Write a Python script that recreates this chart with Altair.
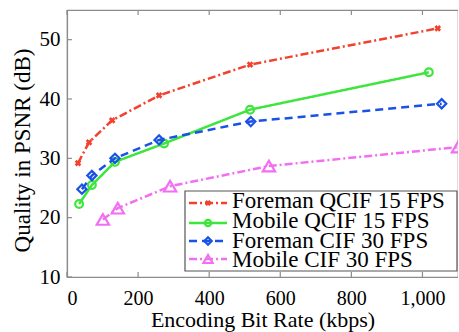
import altair as alt
import pandas as pd

# ---- data ----
series_names = ["Foreman QCIF 15 FPS", "Mobile QCIF 15 FPS", "Foreman CIF 30 FPS", "Mobile CIF 30 FPS"]
foreman_qcif_x = [31, 62, 127, 259, 515, 1043]
foreman_qcif_y = [29.2, 32.7, 36.4, 40.6, 45.8, 51.9]
mobile_qcif_x = [34, 70, 135, 273, 515, 1018]
mobile_qcif_y = [22.3, 25.5, 29.4, 32.5, 38.2, 44.5]
foreman_cif_x = [42, 70, 135, 259, 517, 1054]
foreman_cif_y = [24.8, 27.1, 30.0, 33.1, 36.2, 39.2]
mobile_cif_x = [101, 143, 290, 568, 1100]
mobile_cif_y = [19.7, 21.6, 25.3, 28.7, 31.9]
x_ticks = [0, 200, 400, 600, 800, 1000]
y_ticks = [10, 20, 30, 40, 50]

# ---- styles ----
FONT = "Liberation Serif"
W, H = 391, 267
colors = ["#f4412d", "#3ce63c", "#1a52e6", "#f26ef2"]
dashes = [[8, 3, 2, 3], [1, 0], [8, 5], [8, 3, 2, 3]]
shapes = ["cross", "circle", "diamond", "triangle-up"]
sizes = [45, 60, 85, 150]
leg_sizes = [35, 40, 55, 85]
filled = [True, False, False, False]
angles = [45, 0, 0, 0]

xs = [foreman_qcif_x, mobile_qcif_x, foreman_cif_x, mobile_cif_x]
ys = [foreman_qcif_y, mobile_qcif_y, foreman_cif_y, mobile_cif_y]

xscale = alt.Scale(domain=[0, 1100], nice=False, zero=False)
yscale = alt.Scale(domain=[10, 55], nice=False, zero=False)

xaxis = alt.Axis(values=x_ticks, title="Encoding Bit Rate (kbps)", ticks=False, grid=False,
                 labelPadding=27, labelBaseline="alphabetic", labelFontSize=20,
                 titleY=49, titleBaseline="alphabetic", titleFontSize=22)
yaxis = alt.Axis(values=y_ticks, title="Quality in PSNR (dB)", ticks=False, grid=False,
                 labelPadding=7, titleX=-45, titleY=140, titleBaseline="middle")

layers = []

# inward tick marks
xt = pd.DataFrame({"v": x_ticks})
yt = pd.DataFrame({"v": y_ticks})
tick_color = "#8c8c8c"
layers.append(alt.Chart(xt).mark_rule(color=tick_color, strokeWidth=1.2).encode(
    x=alt.X("v:Q", scale=xscale, axis=xaxis), y=alt.value(H), y2=alt.value(H - 5)))
layers.append(alt.Chart(xt).mark_rule(color=tick_color, strokeWidth=1.2).encode(
    x=alt.X("v:Q", scale=xscale, axis=xaxis), y=alt.value(0), y2=alt.value(5)))
layers.append(alt.Chart(yt).mark_rule(color=tick_color, strokeWidth=1.2).encode(
    y=alt.Y("v:Q", scale=yscale, axis=yaxis), x=alt.value(0), x2=alt.value(5)))

for i, name in enumerate(series_names):
    df = pd.DataFrame({"x": xs[i], "y": ys[i]})
    base = alt.Chart(df).encode(
        x=alt.X("x:Q", scale=xscale, axis=xaxis),
        y=alt.Y("y:Q", scale=yscale, axis=yaxis),
    )
    layers.append(base.mark_line(color=colors[i], strokeWidth=2.5, strokeDash=dashes[i]))
    layers.append(base.mark_point(color=colors[i], shape=shapes[i], size=sizes[i],
                                  filled=filled[i], strokeWidth=2.2, angle=angles[i], opacity=1))

# legend (drawn manually)
box = pd.DataFrame({"k": [0]})
layers.append(alt.Chart(box).mark_rect(fill="white", stroke="#555555", strokeWidth=1.2).encode(
    x=alt.value(185 - 67), x2=alt.value(457 - 67), y=alt.value(191 - 10), y2=alt.value(271 - 10)))
line_y = [203, 223, 241, 259]
text_base = [208, 228, 248, 267]
for i, name in enumerate(series_names):
    ly = line_y[i] - 10
    d = pd.DataFrame({"t": [name]})
    layers.append(alt.Chart(d).mark_rule(color=colors[i], strokeWidth=2.5, strokeDash=dashes[i]).encode(
        x=alt.value(189 - 67), x2=alt.value(227 - 67), y=alt.value(ly)))
    layers.append(alt.Chart(d).mark_point(color=colors[i], shape=shapes[i], size=leg_sizes[i],
                                          filled=filled[i], strokeWidth=2.2, angle=angles[i], opacity=1).encode(
        x=alt.value(208 - 67), y=alt.value(ly)))
    layers.append(alt.Chart(d).mark_text(align="left", baseline="alphabetic", font=FONT, fontSize=23,
                                         color="black").encode(
        text="t:N", x=alt.value(232 - 67), y=alt.value(text_base[i] - 10)))

chart = alt.layer(*layers).properties(
    width=W, height=H,
    background="white",
    autosize=alt.AutoSizeParams(type="none"),
    padding={"left": 67, "top": 10, "right": 0, "bottom": 55},
).configure_view(stroke="#8c8c8c", strokeWidth=1.2).configure_axis(
    domainColor="#8c8c8c", domainWidth=1.2,
    labelFont=FONT, labelFontSize=21, labelColor="black",
    titleFont=FONT, titleFontSize=23, titleColor="black", titleFontWeight="normal",
)

chart.save("out.html", embed_options={"renderer": "svg", "actions": False})
